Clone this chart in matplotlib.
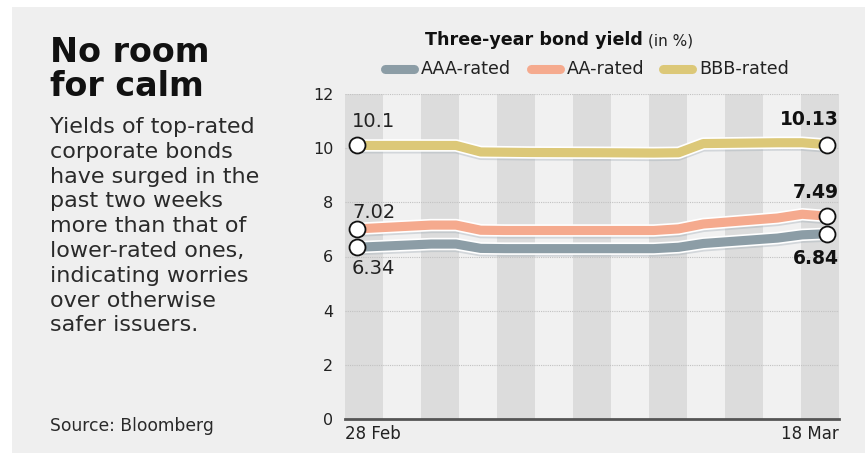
import matplotlib
matplotlib.use('Agg')
import matplotlib.pyplot as plt
import matplotlib.patheffects as pe
import numpy as np
import pandas as pd

# trading days, 28 Feb - 18 Mar (10 Mar market holiday)
dates = ['2020-02-28', '2020-03-02', '2020-03-03', '2020-03-04', '2020-03-05',
         '2020-03-06', '2020-03-09', '2020-03-11', '2020-03-12', '2020-03-13',
         '2020-03-16', '2020-03-17', '2020-03-18']
aaa = [6.34, 6.46, 6.46, 6.30, 6.29, 6.29, 6.29, 6.29, 6.34, 6.48, 6.68, 6.80, 6.84]
aa = [7.02, 7.16, 7.16, 6.97, 6.96, 6.96, 6.96, 6.96, 7.02, 7.20, 7.42, 7.56, 7.49]
bbb = [10.10, 10.10, 10.10, 9.86, 9.85, 9.84, 9.83, 9.82, 9.83, 10.17, 10.20, 10.20, 10.13]

names = ['AAA-rated', 'AA-rated', 'BBB-rated']
colors = ['#8c9da6', '#f5aa8e', '#dcc878']
yticks = [0, 2, 4, 6, 8, 10, 12]
xlabels = ['28 Feb', '18 Mar']
body = ['Yields of top-rated', 'corporate bonds', 'have surged in the', 'past two weeks',
        'more than that of', 'lower-rated ones,', 'indicating worries', 'over otherwise',
        'safer issuers.']

plt.rcParams['font.family'] = ['DejaVu Sans']
W, H = 865, 453

d = pd.to_datetime(dates)
x = np.array((d - d[0]).days, dtype=float)
series = [aaa, aa, bbb]

fig = plt.figure(figsize=(W/100, H/100), dpi=100)
fig.patch.set_facecolor('white')
panel = plt.Rectangle((12/W, 0), 1, 1 - 7/H, transform=fig.transFigure,
                      facecolor='#efefef', edgecolor='none', zorder=-10)
fig.patches.append(panel)

ax = fig.add_axes([345/W, 1 - 419/H, (839 - 345)/W, (419 - 94)/H])
ax.set_facecolor('#efefef')
xl = (x[0] - 0.485, x[-1] + 0.485)
ax.set_xlim(xl)
ax.set_ylim(0, 12)

# alternating column stripes
edges = np.linspace(xl[0], xl[1], 14)
for i in range(13):
    c = '#dcdcdc' if i % 2 == 0 else '#f1f1f1'
    ax.axvspan(edges[i], edges[i+1], color=c, lw=0, zorder=0)

for yv in yticks[1:]:
    ax.axhline(yv, color='#c2c2c2', lw=0.8, ls=(0, (1, 1)), zorder=1)

for s, col in zip(series, colors):
    ax.plot(x, s, color=col, lw=6.6, solid_joinstyle='round', solid_capstyle='round', zorder=3,
            path_effects=[pe.SimpleLineShadow(offset=(0, -2.5), shadow_color='#9aa6b0', alpha=0.35),
                          pe.Stroke(linewidth=9, foreground='white'), pe.Normal()])
    ax.plot([x[0], x[-1]], [s[0], s[-1]], 'o', ms=11.5, mfc='white', mec='#111111', mew=1.3, zorder=5)

ax.set_yticks(yticks)
ax.set_yticklabels([str(v) for v in yticks], fontsize=11.5, color='#222222')
ax.tick_params(axis='y', length=0, pad=8.5)
ax.set_xticks([])
for sp in ['top', 'right', 'left']:
    ax.spines[sp].set_visible(False)
ax.spines['bottom'].set_color('#555555')
ax.spines['bottom'].set_linewidth(2)
ax.spines['bottom'].set_zorder(6)

tr = ax.get_xaxis_transform()
ax.text(xl[0], -0.018, xlabels[0], transform=tr, ha='left', va='top', fontsize=12, color='#222222')
ax.text(xl[1], -0.018, xlabels[1], transform=tr, ha='right', va='top', fontsize=12, color='#222222')

# value labels at the ends
ax.text(x[0] - 0.2, bbb[0] + 0.9, '%g' % bbb[0], fontsize=14, color='#222222', va='center')
ax.text(x[0] - 0.2, aa[0] + 0.62, '%.2f' % aa[0], fontsize=14, color='#222222', va='center')
ax.text(x[0] - 0.2, aaa[0] - 0.8, '%.2f' % aaa[0], fontsize=14, color='#222222', va='center')
ax.text(xl[1], bbb[-1] + 0.92, '%.2f' % bbb[-1], fontsize=13.5, weight='bold', color='#111111',
        va='center', ha='right')
ax.text(xl[1], aa[-1] + 0.88, '%.2f' % aa[-1], fontsize=13.5, weight='bold', color='#111111',
        va='center', ha='right')
ax.text(xl[1], aaa[-1] - 0.93, '%.2f' % aaa[-1], fontsize=13.5, weight='bold', color='#111111',
        va='center', ha='right')

# left-hand text block
fig.text(50/W, 1 - 62/H, 'No room', fontsize=24, weight='bold', color='#111111', va='baseline')
fig.text(50/W, 1 - 96/H, 'for calm', fontsize=24, weight='bold', color='#111111', va='baseline')
for i, line in enumerate(body):
    fig.text(50/W, 1 - (133 + 24.8*i)/H, line, fontsize=16, color='#2a2a2a', va='baseline')
fig.text(50/W, 1 - 431/H, 'Source: Bloomberg', fontsize=12.3, color='#2a2a2a', va='baseline')

# chart title + legend
t = fig.text(425/W, 1 - 45/H, 'Three-year bond yield', fontsize=12.6, weight='bold',
             color='#111111', va='baseline')
fig.canvas.draw()
bb = t.get_window_extent()
fig.text((bb.x1 + 5)/W, 1 - 45/H, '(in %)', fontsize=11, color='#222222', va='baseline')

lx = [382, 528, 660]
for name, col, px in zip(names, colors, lx):
    fig.add_artist(plt.Line2D([(px + 3)/W, (px + 32)/W], [1 - 69/H] * 2, color=col, lw=6.5,
                              solid_capstyle='round', transform=fig.transFigure))
    fig.text((px + 39)/W, 1 - 69/H, name, fontsize=12.6, color='#222222', va='center')

fig.savefig('out.png', dpi=100, facecolor=fig.get_facecolor())
